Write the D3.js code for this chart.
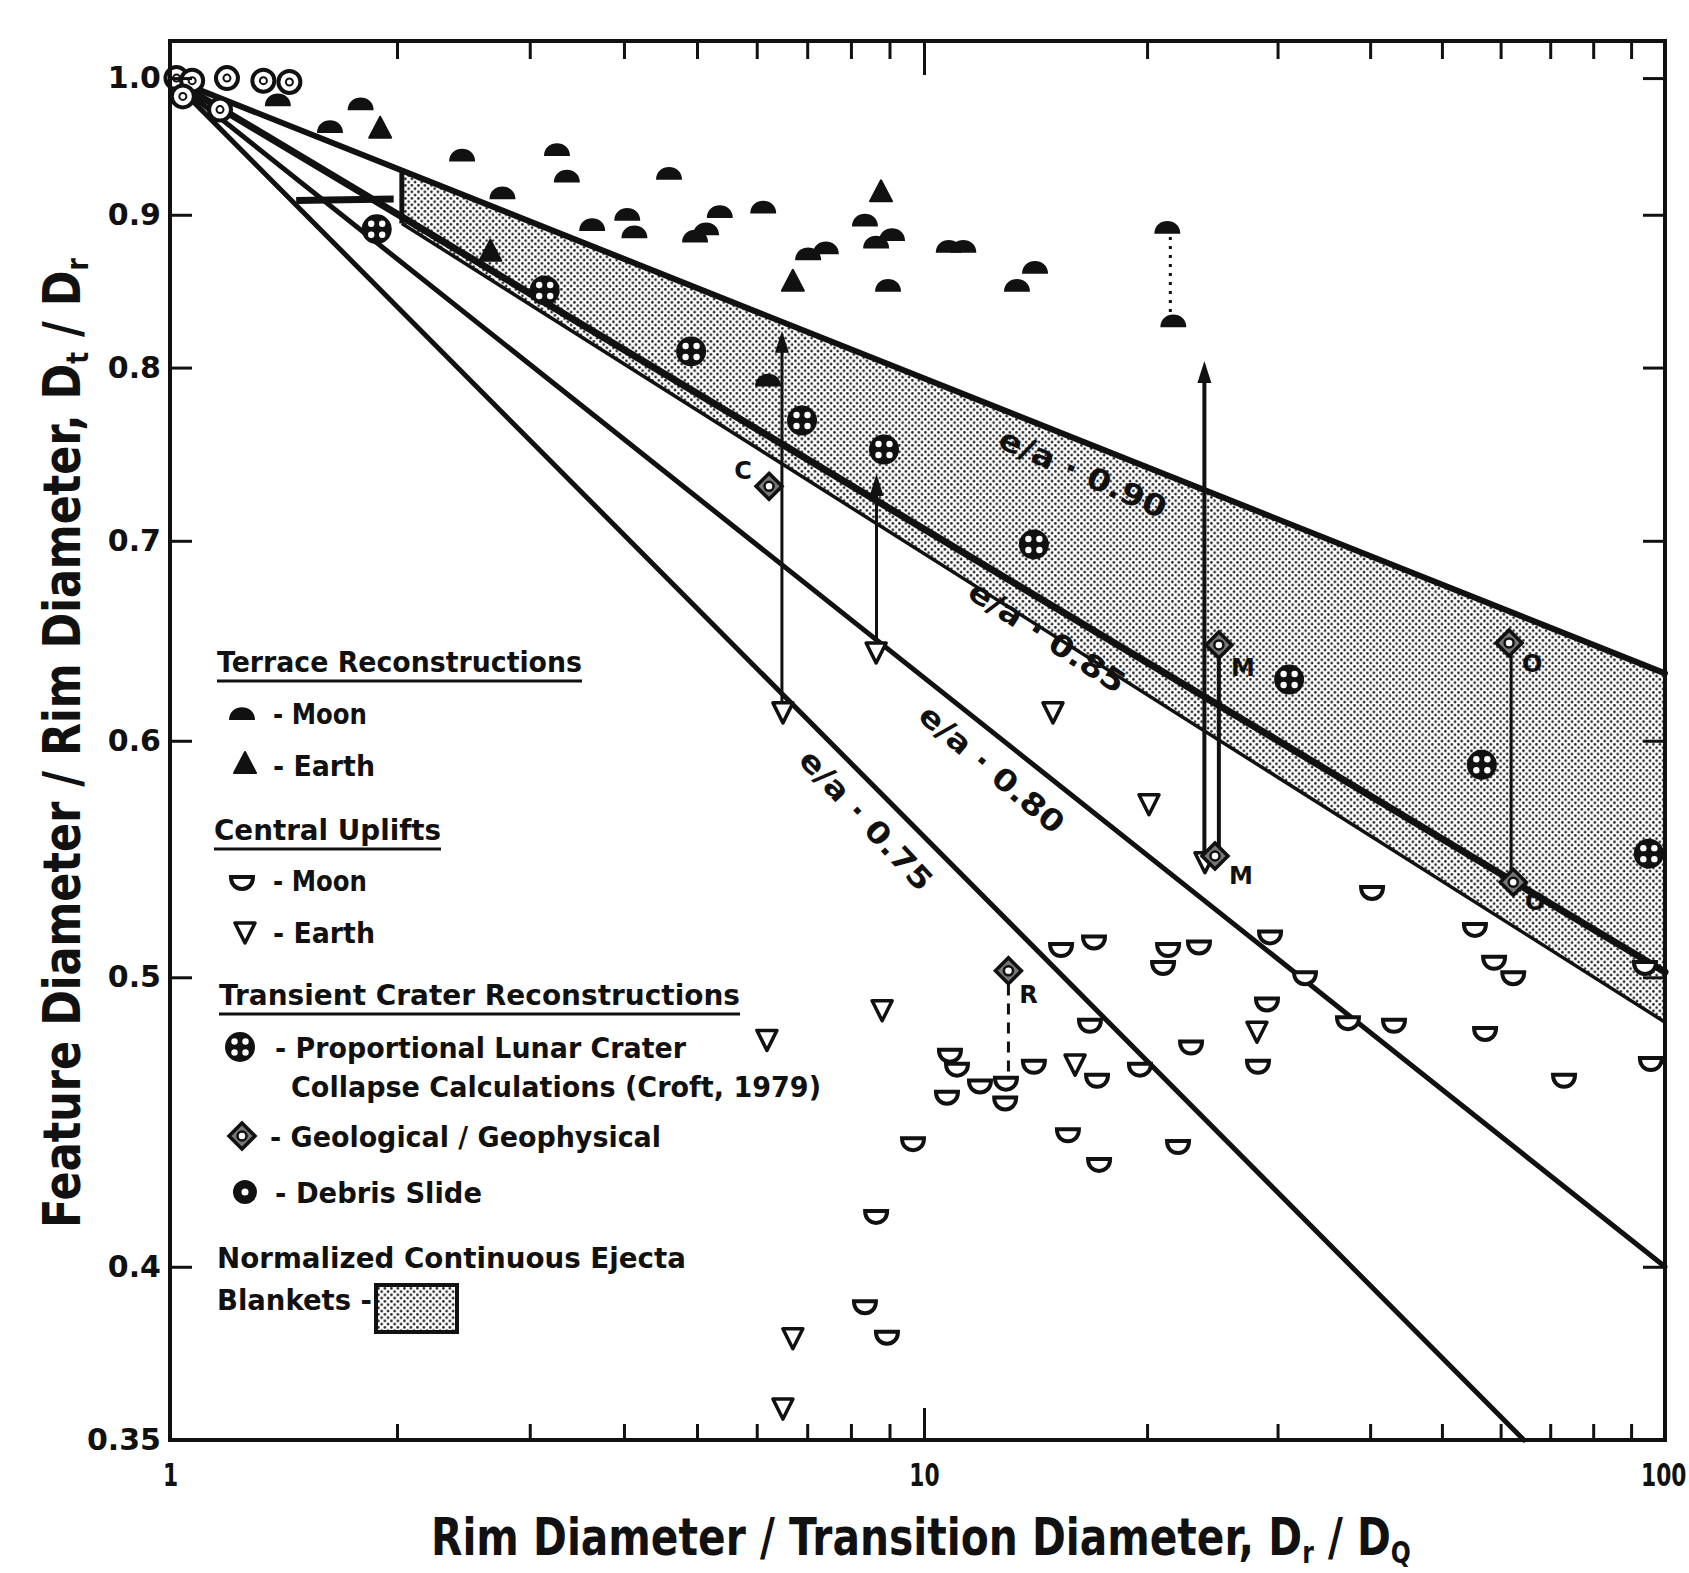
<!DOCTYPE html>
<html>
<head>
<meta charset="utf-8">
<script src="https://cdn.jsdelivr.net/npm/d3@7"></script>
<style>
  body { margin: 0; background: #fff; }
  svg { display: block; background: #fff; }
  text { font-family: "DejaVu Sans", "Liberation Sans", sans-serif; font-weight: bold; fill: #111; }
</style>
</head>
<body>
<div id="chart"></div>
<script>
//define svg area dimensions
var svgWidth = 1689;
var svgHeight = 1573;

//margins put the plot box at x 170..1665, y 41..1440
var margin = { top: 41, right: 24, bottom: 133, left: 170 };
var chartWidth = svgWidth - margin.left - margin.right;
var chartHeight = svgHeight - margin.top - margin.bottom;

// ---------------- data ----------------
// ticks
var xMajorTicks = [1, 10, 100];
var xMinorTicks = [2, 3, 4, 5, 6, 7, 8, 9, 20, 30, 40, 50, 60, 70, 80, 90];
var yTicks = [1.0, 0.9, 0.8, 0.7, 0.6, 0.5, 0.4, 0.35];
var yTickLabels = ["1.0", "0.9", "0.8", "0.7", "0.6", "0.5", "0.4", "0.35"];

// terrace reconstructions - moon (filled domes)
var terraceMoonX = [1.39, 1.63, 1.79, 2.44, 2.76, 3.26, 3.36, 3.63, 4.04, 4.13, 4.59, 4.97, 5.14, 5.36,
  6.12, 6.21, 7.02, 7.41, 8.35, 8.64, 8.96, 9.07, 10.8, 11.3, 13.35, 14.12, 21.3, 21.7];
var terraceMoonY = [0.983, 0.963, 0.980, 0.942, 0.915, 0.946, 0.927, 0.893, 0.900, 0.888, 0.929, 0.885, 0.890, 0.902,
  0.905, 0.792, 0.873, 0.877, 0.896, 0.881, 0.852, 0.886, 0.878, 0.878, 0.852, 0.864, 0.891, 0.829];

// terrace reconstructions - earth (filled triangles)
var terraceEarthX = [1.90, 2.66, 6.70, 8.77];
var terraceEarthY = [0.961, 0.874, 0.854, 0.915];

// central uplifts - moon (open bowls)
var upliftMoonX = [16.75, 22.93, 10.84, 11.08, 14.07, 19.56, 17.12, 11.9, 12.9, 12.87, 10.74, 15.64, 22.02,
  9.67, 17.23, 8.64, 8.35, 8.93, 15.31, 16.96, 21.35, 21.02, 23.5, 29.31, 32.67, 40.24, 55.4, 58.8,
  62.4, 29.03, 37.34, 43.08, 57.17, 28.23, 95.7, 73.07, 93.97];
var upliftMoonY = [0.482, 0.474, 0.471, 0.466, 0.467, 0.466, 0.462, 0.460, 0.461, 0.454, 0.456, 0.443, 0.439,
  0.440, 0.433, 0.416, 0.388, 0.379, 0.511, 0.514, 0.511, 0.504, 0.512, 0.516, 0.500, 0.534, 0.519, 0.506,
  0.500, 0.490, 0.483, 0.482, 0.479, 0.467, 0.468, 0.462, 0.504];

// central uplifts - earth (open inverted triangles)
var upliftEarthX = [6.50, 8.64, 14.93, 20.12, 23.94, 6.19, 8.80, 15.99, 28.14, 6.70, 6.50];
var upliftEarthY = [0.614, 0.643, 0.614, 0.572, 0.547, 0.477, 0.488, 0.468, 0.480, 0.379, 0.359];

// transient crater reconstructions - proportional lunar crater collapse (Croft, 1979)
var lunarCollapseX = [1.88, 3.14, 4.91, 6.89, 8.85, 14.07, 31.1, 56.6, 95.1];
var lunarCollapseY = [0.890, 0.849, 0.810, 0.768, 0.751, 0.698, 0.629, 0.589, 0.550];

// geological / geophysical estimates, with crater tags
var geoX = [6.23, 25.0, 24.7, 61.6, 62.4, 13.0];
var geoY = [0.730, 0.646, 0.549, 0.647, 0.538, 0.5025];
var geoTags = ["C", "M", "M", "O", "O", "R"];

// debris slides (top left corner)
var debrisX = [1.02, 1.07, 1.04, 1.19, 1.165, 1.33, 1.44];
var debrisY = [1.000, 0.998, 0.986, 1.000, 0.976, 0.998, 0.997];

// e/a reference lines, straight on log-log axes: start and end points
var eaLabels = ["e/a \u00b7 0.90", "e/a \u00b7 0.85", "e/a \u00b7 0.80", "e/a \u00b7 0.75"];
var eaStartX = [1.04, 1.04, 1.04, 1.04];
var eaStartY = [0.996, 0.994, 0.992, 0.990];
var eaEndX = [100, 100, 100, 64.5];
var eaEndY = [0.632, 0.502, 0.400, 0.35];
var eaLabelAtX = [17.0, 15.4, 13.1, 8.95];

// normalized continuous ejecta blanket outline
var blanketX = [2.03, 100, 100, 2.03];
var blanketY = [0.932, 0.632, 0.483, 0.894];

// vertical arrows (low point -> arrow head at high point)
var arrowX = [6.48, 8.65, 23.9];
var arrowLow = [0.614, 0.643, 0.547];
var arrowHigh = [0.823, 0.737, 0.804];

// plain tie lines between paired estimates (M and O)
var tieX = [25.0, 62.0];
var tieLow = [0.549, 0.538];
var tieHigh = [0.646, 0.647];

// dotted tie (terrace pair) and dashed tie (R)
var dottedX = [21.5, 21.5];
var dottedY = [0.835, 0.885];
var dashedX = [13.0, 13.0];
var dashedY = [0.465, 0.4985];

// short step segment near the apex
var stepX = [1.47, 1.98];
var stepY = [0.910, 0.911];

// ---------------- chart ----------------
var ink = "#111";

var svg = d3.select("#chart")
  .append("svg")
  .attr("width", svgWidth)
  .attr("height", svgHeight);

var defs = svg.append("defs");
var pat = defs.append("pattern")
  .attr("id", "stipple")
  .attr("patternUnits", "userSpaceOnUse")
  .attr("width", 6.5)
  .attr("height", 6.5);
pat.append("circle").attr("cx", 1.4).attr("cy", 1.4).attr("r", 1.35).attr("fill", "#222");
pat.append("circle").attr("cx", 4.6).attr("cy", 4.6).attr("r", 1.35).attr("fill", "#222");

var chartGroup = svg.append("g")
  .attr("transform", `translate(${margin.left}, ${margin.top})`);

// log scales (the scanned x axis has slightly unequal decades)
var xLogScale = d3.scaleLog()
  .domain([1, 10, 100])
  .range([0, 754, chartWidth]);

var yLogScale = d3.scaleLog()
  .domain([0.35, 1.029])
  .range([chartHeight, 0]);

var line = d3.line()
  .x(d => xLogScale(d[0]))
  .y(d => yLogScale(d[1]));

// ejecta blanket shading
chartGroup.append("path")
  .attr("d", line(d3.zip(blanketX, blanketY)) + "Z")
  .attr("fill", "url(#stipple)")
  .attr("stroke", "none");

// lower edge of the blanket and its left end
chartGroup.append("path")
  .attr("d", line([[blanketX[3], blanketY[3]], [blanketX[2], blanketY[2]]]))
  .attr("fill", "none").attr("stroke", ink).attr("stroke-width", 3.5);
chartGroup.append("path")
  .attr("d", line([[blanketX[0], blanketY[0]], [blanketX[3], blanketY[3]]]))
  .attr("fill", "none").attr("stroke", ink).attr("stroke-width", 5);

// e/a lines
var eaWidths = [6, 7, 5, 5];
eaLabels.forEach(function(lbl, i) {
  chartGroup.append("path")
    .attr("d", line([[eaStartX[i], eaStartY[i]], [eaEndX[i], eaEndY[i]]]))
    .attr("fill", "none")
    .attr("stroke", ink)
    .attr("stroke-width", eaWidths[i])
    .attr("stroke-linecap", "round");
});

chartGroup.append("path")
  .attr("d", line(d3.zip(stepX, stepY)))
  .attr("fill", "none").attr("stroke", ink).attr("stroke-width", 7);

// line labels, rotated along each line and set just under it
eaLabels.forEach(function(lbl, i) {
  var x0 = xLogScale(eaStartX[i]), y0 = yLogScale(eaStartY[i]);
  var x1 = xLogScale(eaEndX[i]), y1 = yLogScale(eaEndY[i]);
  var px = xLogScale(eaLabelAtX[i]);
  var py = y0 + (px - x0) / (x1 - x0) * (y1 - y0);
  var ang = Math.atan2(y1 - y0, x1 - x0) * 180 / Math.PI + 2;
  chartGroup.append("text")
    .attr("transform", `translate(${px}, ${py}) rotate(${ang})`)
    .attr("y", 29)
    .attr("dy", "0.36em")
    .attr("text-anchor", "middle")
    .attr("font-size", 30)
    .attr("textLength", 180)
    .attr("lengthAdjust", "spacingAndGlyphs")
    .text(lbl);
});

// arrows
arrowX.forEach(function(x, i) {
  var xp = xLogScale(x), ylo = yLogScale(arrowLow[i]), yhi = yLogScale(arrowHigh[i]);
  chartGroup.append("line")
    .attr("x1", xp).attr("x2", xp).attr("y1", ylo).attr("y2", yhi + 10)
    .attr("stroke", ink).attr("stroke-width", i === 2 ? 4 : 3);
  chartGroup.append("path")
    .attr("transform", `translate(${xp}, ${yhi})`)
    .attr("d", "M0,0 L7,22 L-7,22 Z")
    .attr("fill", ink);
});

tieX.forEach(function(x, i) {
  chartGroup.append("line")
    .attr("x1", xLogScale(x)).attr("x2", xLogScale(x))
    .attr("y1", yLogScale(tieLow[i])).attr("y2", yLogScale(tieHigh[i]))
    .attr("stroke", ink).attr("stroke-width", i === 0 ? 4 : 3);
});

chartGroup.append("path")
  .attr("d", line(d3.zip(dottedX, dottedY)))
  .attr("stroke", ink).attr("stroke-width", 3).attr("stroke-dasharray", "3,6");
chartGroup.append("path")
  .attr("d", line(d3.zip(dashedX, dashedY)))
  .attr("stroke", ink).attr("stroke-width", 3).attr("stroke-dasharray", "11,8");

// marker drawing
function drawSymbol(g, kind) {
  if (kind === "terraceMoon") {
    g.append("path").attr("d", "M-13,6 C-13,-11 13,-11 13,6 Z").attr("fill", ink);
  } else if (kind === "terraceEarth") {
    g.append("path").attr("d", "M0,-13 L11,8 L-11,8 Z").attr("fill", ink)
      .attr("stroke", ink).attr("stroke-width", 2).attr("stroke-linejoin", "round");
  } else if (kind === "upliftMoon") {
    g.append("path").attr("d", "M-11,-5 L11,-5 C11,11 -11,11 -11,-5 Z")
      .attr("fill", "#fff").attr("stroke", ink).attr("stroke-width", 4);
  } else if (kind === "upliftEarth") {
    g.append("path").attr("d", "M-10,-8 L10,-8 L0,12 Z")
      .attr("fill", "#fff").attr("stroke", ink).attr("stroke-width", 3.5).attr("stroke-linejoin", "round");
  } else if (kind === "lunar") {
    g.append("circle").attr("r", 15).attr("fill", ink);
    [[-5.5, -5.5], [5.5, -5.5], [-5.5, 5.5], [5.5, 5.5]].forEach(function(p) {
      g.append("circle").attr("cx", p[0]).attr("cy", p[1]).attr("r", 3.2).attr("fill", "#fff");
    });
  } else if (kind === "geo") {
    g.append("path").attr("d", "M0,-13 L13,0 L0,13 L-13,0 Z")
      .attr("fill", "#777").attr("stroke", ink).attr("stroke-width", 3.5);
    g.append("circle").attr("r", 4.5).attr("fill", "#fff").attr("stroke", ink).attr("stroke-width", 2.5);
  } else if (kind === "debris") {
    g.append("circle").attr("r", 12).attr("fill", ink);
    g.append("circle").attr("r", 3.5).attr("fill", "#fff");
  } else if (kind === "debrisRing") {
    g.append("circle").attr("r", 11).attr("fill", "#fff").attr("stroke", ink).attr("stroke-width", 4);
    g.append("circle").attr("r", 3.5).attr("fill", "none").attr("stroke", ink).attr("stroke-width", 2);
  }
}

function plotSeries(xs, ys, kind) {
  chartGroup.append("g").selectAll("g")
    .data(d3.zip(xs, ys))
    .enter()
    .append("g")
    .attr("transform", d => `translate(${xLogScale(d[0])}, ${yLogScale(d[1])})`)
    .each(function() { drawSymbol(d3.select(this), kind); });
}

plotSeries(debrisX, debrisY, "debrisRing");
plotSeries(terraceMoonX, terraceMoonY, "terraceMoon");
plotSeries(terraceEarthX, terraceEarthY, "terraceEarth");
plotSeries(upliftMoonX, upliftMoonY, "upliftMoon");
plotSeries(upliftEarthX, upliftEarthY, "upliftEarth");
plotSeries(lunarCollapseX, lunarCollapseY, "lunar");
plotSeries(geoX, geoY, "geo");

// crater tags beside the geological points
var tagDx = [-26, 24, 26, 23, 22, 20];
var tagDy = [-16, 22, 19, 20, 19, 24];
geoTags.forEach(function(t, i) {
  chartGroup.append("text")
    .attr("x", xLogScale(geoX[i]) + tagDx[i])
    .attr("y", yLogScale(geoY[i]) + tagDy[i])
    .attr("dy", "0.36em")
    .attr("text-anchor", "middle")
    .attr("font-size", 24)
    .text(t);
});

// ---------------- axes ----------------
function styleAxis(g) {
  g.select(".domain").remove();
  g.selectAll(".tick line").attr("stroke", ink).attr("stroke-width", 3);
  g.selectAll(".tick text").attr("fill", ink).style("font-family", "'DejaVu Sans', sans-serif").style("font-weight", "bold");
}

// bottom
chartGroup.append("g")
  .attr("transform", `translate(0, ${chartHeight})`)
  .call(d3.axisBottom(xLogScale).tickValues(xMinorTicks).tickSizeInner(-16).tickSizeOuter(0).tickFormat(""))
  .call(styleAxis);
chartGroup.append("g")
  .attr("transform", `translate(0, ${chartHeight})`)
  .call(d3.axisBottom(xLogScale).tickValues([10]).tickSizeInner(-32).tickSizeOuter(0).tickFormat(""))
  .call(styleAxis);
var bottomLabels = chartGroup.append("g")
  .attr("transform", `translate(0, ${chartHeight})`)
  .call(d3.axisBottom(xLogScale).tickValues(xMajorTicks).tickSize(0).tickPadding(23).tickFormat(d3.format("d")))
  .call(styleAxis);
// condensed like the scan; the last label is pulled in so it stays on the page
bottomLabels.selectAll(".tick text")
  .attr("font-size", 32)
  .attr("text-anchor", d => d === 100 ? "end" : "middle")
  .attr("transform", d => d === 100 ? "translate(21, 0) scale(0.68, 1)" : "scale(0.68, 1)");

// top
chartGroup.append("g")
  .call(d3.axisTop(xLogScale).tickValues(xMinorTicks).tickSizeInner(-18).tickSizeOuter(0).tickFormat(""))
  .call(styleAxis);
chartGroup.append("g")
  .call(d3.axisTop(xLogScale).tickValues([10]).tickSizeInner(-34).tickSizeOuter(0).tickFormat(""))
  .call(styleAxis);

// left
var leftAxis = chartGroup.append("g")
  .call(d3.axisLeft(yLogScale).tickValues(yTicks).tickSizeInner(-22).tickSizeOuter(0).tickPadding(9)
    .tickFormat((d, i) => yTickLabels[i]))
  .call(styleAxis);
leftAxis.selectAll(".tick text").attr("font-size", 30);

// right
chartGroup.append("g")
  .attr("transform", `translate(${chartWidth}, 0)`)
  .call(d3.axisRight(yLogScale).tickValues(yTicks.slice(0, 7)).tickSizeInner(-22).tickSizeOuter(0).tickFormat(""))
  .call(styleAxis);

// frame
chartGroup.append("rect")
  .attr("width", chartWidth)
  .attr("height", chartHeight)
  .attr("fill", "none")
  .attr("stroke", ink)
  .attr("stroke-width", 4);

// axis titles: natural text squeezed horizontally to the scanned width
function squeezedTitle(parts, width, place) {
  var t = svg.append("text").attr("font-size", 52);
  parts.forEach(function(p) {
    var s = t.append("tspan").text(p.text);
    if (p.sub) s.attr("font-size", 30).attr("dy", 8);
    else if (p.up) s.attr("dy", -8);
  });
  var w = t.node().getComputedTextLength();
  t.attr("transform", place + ` scale(${width / w}, 1)`);
  return t;
}

squeezedTitle([
  { text: "Rim Diameter / Transition Diameter, D" },
  { text: "r", sub: true },
  { text: " / D", up: true },
  { text: "Q", sub: true }
], 980, "translate(431, 1555)");

squeezedTitle([
  { text: "Feature Diameter / Rim Diameter, D" },
  { text: "t", sub: true },
  { text: " / D", up: true },
  { text: "r", sub: true }
], 970, "translate(80, 1228) rotate(-90)");

// ---------------- legend ----------------
var legendRows = [
  { text: "Terrace Reconstructions", x: 217, y: 672, len: 365, line: true },
  { text: "- Moon", x: 273, y: 724, len: 94, sym: "terraceMoon", sx: 242, sy: 714 },
  { text: "- Earth", x: 273, y: 776, len: 102, sym: "terraceEarth", sx: 245, sy: 765 },
  { text: "Central Uplifts", x: 214, y: 840, len: 227, line: true },
  { text: "- Moon", x: 273, y: 891, len: 94, sym: "upliftMoon", sx: 242, sy: 882 },
  { text: "- Earth", x: 273, y: 943, len: 102, sym: "upliftEarth", sx: 245, sy: 931 },
  { text: "Transient Crater Reconstructions", x: 219, y: 1005, len: 521, line: true },
  { text: "- Proportional Lunar Crater", x: 275, y: 1058, len: 411, sym: "lunar", sx: 240, sy: 1047 },
  { text: "Collapse Calculations (Croft, 1979)", x: 291, y: 1097, len: 530 },
  { text: "- Geological / Geophysical", x: 270, y: 1147, len: 391, sym: "geo", sx: 242, sy: 1136 },
  { text: "- Debris Slide", x: 275, y: 1203, len: 207, sym: "debris", sx: 245, sy: 1192 },
  { text: "Normalized Continuous Ejecta", x: 217, y: 1268, len: 469 },
  { text: "Blankets -", x: 217, y: 1310, len: 155 }
];

var legend = svg.append("g");
legendRows.forEach(function(r) {
  legend.append("text")
    .attr("x", r.x)
    .attr("y", r.y)
    .attr("font-size", 29)
    .attr("textLength", r.len)
    .attr("lengthAdjust", "spacingAndGlyphs")
    .text(r.text);
  if (r.line) {
    legend.append("line")
      .attr("x1", r.x).attr("x2", r.x + r.len)
      .attr("y1", r.y + 9).attr("y2", r.y + 9)
      .attr("stroke", ink).attr("stroke-width", 3);
  }
  if (r.sym) {
    var g = legend.append("g").attr("transform", `translate(${r.sx}, ${r.sy})`);
    drawSymbol(g, r.sym);
  }
});

legend.append("rect")
  .attr("x", 376).attr("y", 1285)
  .attr("width", 81).attr("height", 47)
  .attr("fill", "url(#stipple)")
  .attr("stroke", ink)
  .attr("stroke-width", 4);
</script>
</body>
</html>
